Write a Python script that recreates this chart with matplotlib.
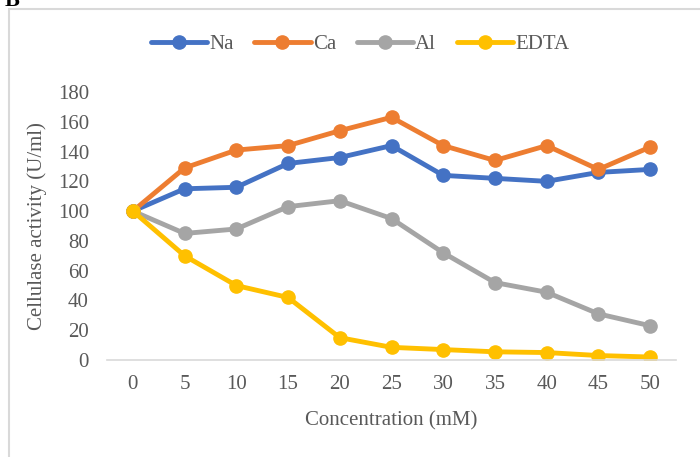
import matplotlib
matplotlib.use("Agg")
import matplotlib.pyplot as plt
from matplotlib.patches import Rectangle

categories = ["0", "5", "10", "15", "20", "25", "30", "35", "40", "45", "50"]
na = [100, 115, 116, 132, 136, 144, 124, 122, 120, 126, 128]
ca = [100, 129, 141, 144, 154, 163, 144, 134, 144, 128, 143]
al = [100, 85, 88, 103, 107, 95, 72, 52, 45.5, 31, 23]
edta = [100, 70, 50, 42, 15, 8.5, 7, 5.5, 5, 3, 2]
series = [("Na", na, "#4472C4"), ("Ca", ca, "#ED7D31"), ("Al", al, "#A5A5A5"), ("EDTA", edta, "#FFC000")]
yticks = [0, 20, 40, 60, 80, 100, 120, 140, 160, 180]

plt.rcParams['font.family'] = ['Liberation Serif', 'DejaVu Serif']

W, H = 700, 457
fig = plt.figure(figsize=(W/100, H/100), dpi=100)
ax = fig.add_axes([107/W, 1-360/H, (676-107)/W, (360-92)/H])

x = list(range(len(categories)))
for name, vals, col in series:
    ax.plot(x, vals, color=col, lw=3.5, marker='o', ms=9.5, label=name, solid_capstyle='round')

ax.set_xlim(-0.5, len(categories)-0.5)
ax.set_ylim(0, 180)
ax.set_xticks(x)
ax.set_xticklabels(categories)
ax.set_yticks(yticks)
for s in ['top', 'right', 'left']:
    ax.spines[s].set_visible(False)
ax.spines['bottom'].set_color('#d9d9d9')
ax.spines['bottom'].set_linewidth(1.2)
ax.tick_params(axis='both', length=0, labelsize=15, labelcolor='#595959')
ax.tick_params(axis='x', pad=11)
ax.tick_params(axis='y', pad=13)
ax.set_xlabel("Concentration (mM)", fontsize=15, color='#595959', labelpad=12)
ax.set_ylabel("Cellulase activity (U/ml)", fontsize=15, color='#595959', labelpad=8)

leg = fig.legend(loc='center', bbox_to_anchor=(360/W, 1-44/H), ncol=4, frameon=False,
                 fontsize=15, handlelength=2.7, columnspacing=1.0, handletextpad=0.1)
for t in leg.get_texts():
    t.set_color('#595959')

fig.patches.append(Rectangle((9/W, -0.1), 1.2, 1-9/H+0.1, transform=fig.transFigure,
                             fill=False, edgecolor='#d9d9d9', lw=1.5))
fig.text(5/W, 1-6/H, "B", fontsize=16, fontweight='bold', va='baseline', ha='left')

fig.savefig("out.png", dpi=100)
